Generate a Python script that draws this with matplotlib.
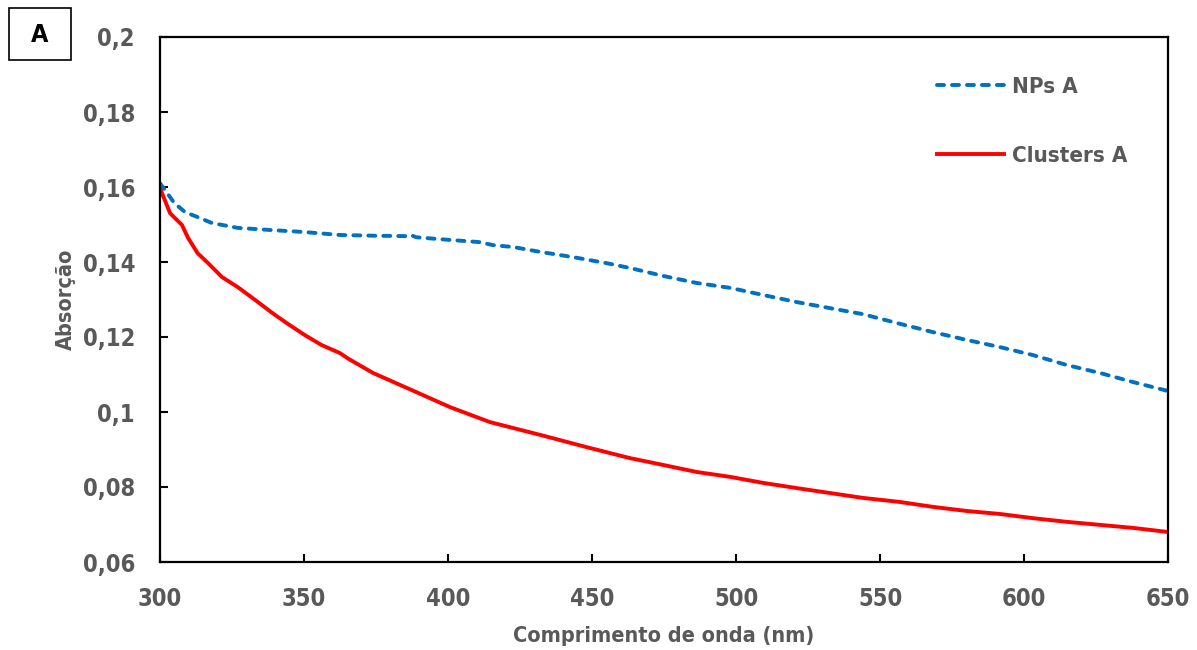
import matplotlib
matplotlib.use("Agg")
import matplotlib.pyplot as plt
from matplotlib.patches import Rectangle

wl_nps = [300, 305, 308.7, 313, 318, 327, 339, 350, 362.5, 375, 385.8, 387, 389, 397, 411,
          415.6, 422.6, 432, 443.4, 455, 463.2, 474.6, 486.4, 498, 509.4, 521.2, 532.6, 544,
          557, 568.4, 580.2, 591.7, 603, 615, 626.4, 637.8, 650]
nps_a = [0.161, 0.1557, 0.1533, 0.152, 0.1504, 0.1491, 0.1485, 0.148, 0.1472, 0.1470,
         0.1469, 0.1472, 0.1466, 0.1461, 0.1453, 0.1445, 0.1440, 0.1427, 0.1413, 0.1397,
         0.1384, 0.1363, 0.1344, 0.1331, 0.1312, 0.1293, 0.1277, 0.1261, 0.1235, 0.1213,
         0.1192, 0.1173, 0.1152, 0.1125, 0.1104, 0.1080, 0.1056]
wl_clusters = [300, 303.5, 307.6, 309.7, 313, 316.7, 321.5, 327, 333, 339, 344, 350.3, 356,
               362.5, 365.4, 374, 389, 400.7, 414.6, 432, 449.3, 463.2, 474.6, 486.4, 498,
               509.4, 521.2, 532.6, 544, 557, 568.4, 580.2, 591.7, 603, 615, 626.4, 637.8, 650]
clusters_a = [0.1597, 0.153, 0.1499, 0.1465, 0.1424, 0.1397, 0.136, 0.1333, 0.1299, 0.1264,
              0.1237, 0.1205, 0.1179, 0.1157, 0.1142, 0.1104, 0.1053, 0.1013, 0.0973, 0.0939,
              0.0904, 0.0877, 0.0859, 0.0840, 0.0827, 0.0811, 0.0797, 0.0784, 0.0771, 0.0760,
              0.0747, 0.0736, 0.0728, 0.0717, 0.0707, 0.0699, 0.0691, 0.0680]
xticks = [300, 350, 400, 450, 500, 550, 600, 650]
yticks = [0.06, 0.08, 0.10, 0.12, 0.14, 0.16, 0.18, 0.20]
ytick_labels = ["0,06", "0,08", "0,1", "0,12", "0,14", "0,16", "0,18", "0,2"]

plt.rcParams['font.family'] = ['DejaVu Sans']
plt.rcParams['font.stretch'] = 'condensed'
plt.rcParams['font.weight'] = 'bold'
gray = '#595959'

fig = plt.figure(figsize=(11.97, 6.5), dpi=100)
ax = fig.add_axes([160/1197, 1-562/650, (1168-160)/1197, (562-37)/650])

ax.plot(wl_nps, nps_a, color='#0070C0', lw=2.8, linestyle=(0, (1.8, 2.05)),
        dash_capstyle='round', label='NPs A')
ax.plot(wl_clusters, clusters_a, color='#FF0000', lw=2.8, label='Clusters A')

ax.set_xlim(300, 650)
ax.set_ylim(0.06, 0.2)
ax.set_xticks(xticks)
ax.set_yticks(yticks)
ax.set_yticklabels(ytick_labels)
ax.tick_params(direction='in', length=6, width=1.5, colors='black',
               labelcolor=gray, labelsize=17)
ax.tick_params(axis='y', pad=18)
ax.tick_params(axis='x', pad=18)
for lab in ax.get_xticklabels() + ax.get_yticklabels():
    lab.set_fontweight('bold')
for s in ax.spines.values():
    s.set_linewidth(1.6)
    s.set_color('black')

ax.set_xlabel('Comprimento de onda (nm)', fontsize=15.6, fontweight='bold', color=gray, labelpad=11)
ax.set_ylabel('Absorção', fontsize=15.6, fontweight='bold', color=gray, labelpad=5)

leg = ax.legend(loc='upper left', bbox_to_anchor=((928-160)/1008, 1-(68-37)/525),
                frameon=False, fontsize=16, handlelength=3.0, handletextpad=0.4,
                labelspacing=2.2, borderaxespad=0)
for t in leg.get_texts():
    t.set_color(gray)
    t.set_fontweight('bold')

fig.patches.append(Rectangle((9/1197, 1-60/650), 62/1197, 52/650, transform=fig.transFigure,
                             fill=False, edgecolor='black', lw=1.2))
fig.text(40/1197, 1-35/650, 'A', ha='center', va='center', fontsize=18,
         fontweight='bold', color='black')

fig.savefig('out.png', dpi=100)
